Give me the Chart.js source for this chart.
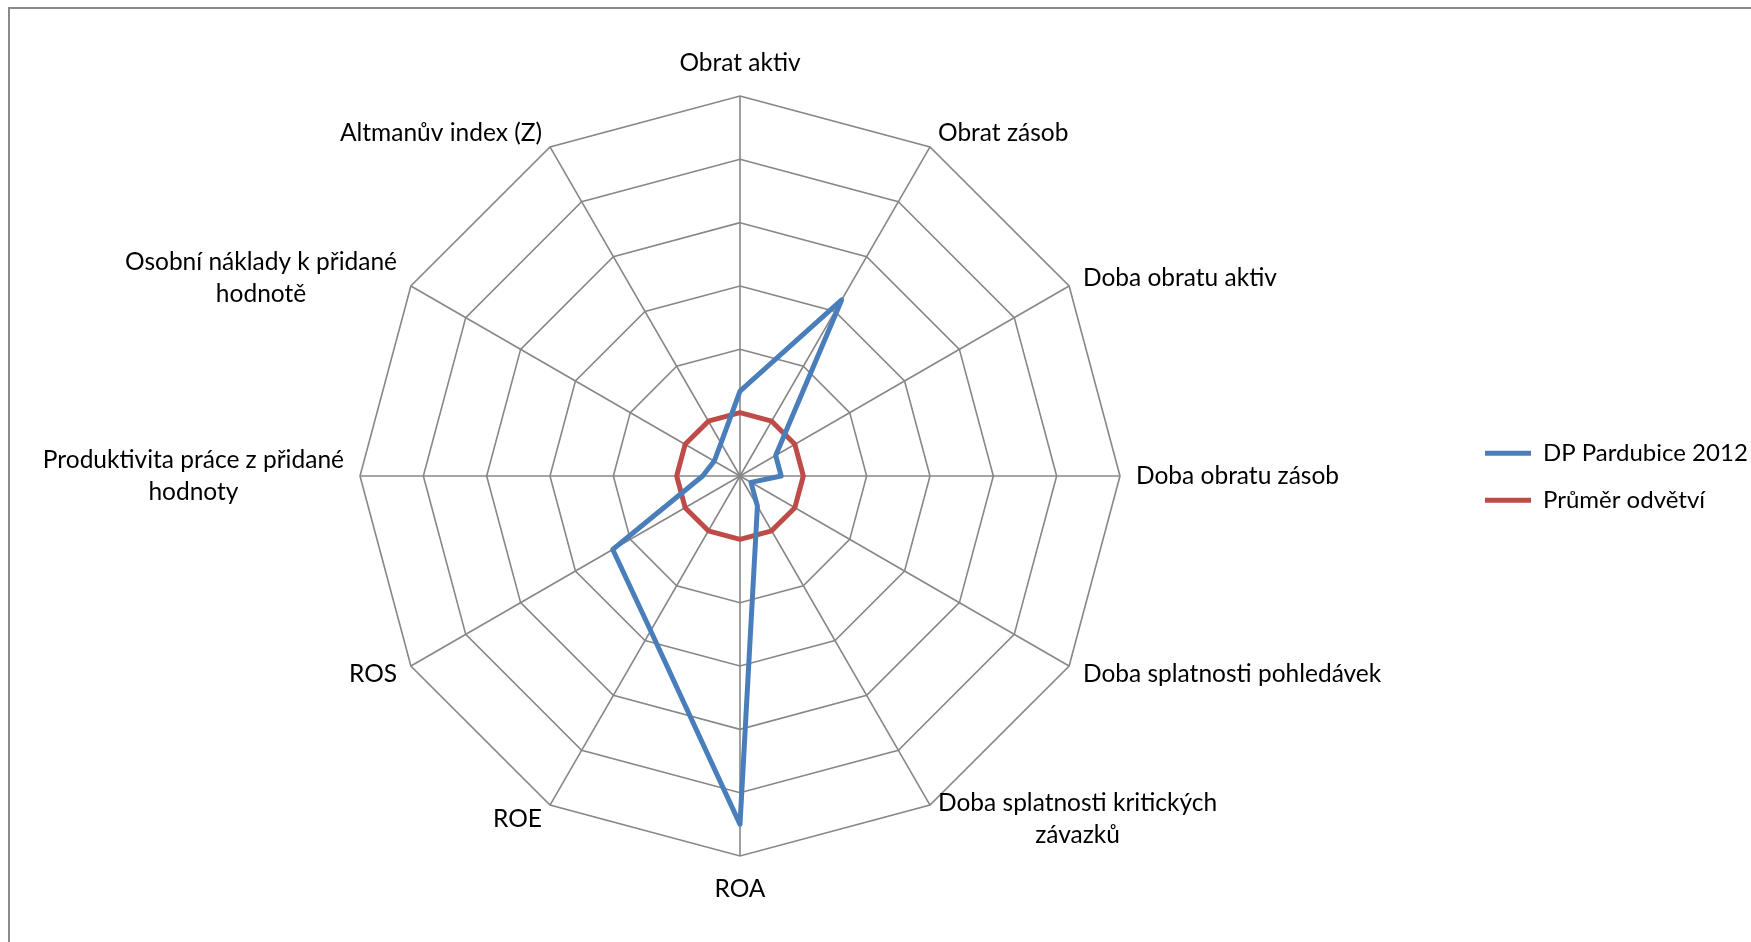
<!DOCTYPE html>
<html>
<head>
<meta charset="utf-8">
<script src="https://cdn.jsdelivr.net/npm/chart.js@4/dist/chart.umd.min.js"></script>
<style>
  html, body { margin: 0; padding: 0; background: #fff; overflow: hidden; }
  #frame { position: absolute; left: 8px; top: 7px; width: 1800px; height: 1000px; border: 2px solid #8a8a8a; }
  #wrap { position: absolute; left: 0; top: 0; width: 1800px; height: 942px; }
</style>
</head>
<body>
<div id="frame"></div>
<div id="wrap"><canvas id="c"></canvas></div>
<script>
// Indicators around the radar (multi-line ones as arrays)
const categories = [
  'Obrat aktiv',
  'Obrat zásob',
  'Doba obratu aktiv',
  'Doba obratu zásob',
  'Doba splatnosti pohledávek',
  ['Doba splatnosti kritických', 'závazků'],
  'ROA',
  'ROE',
  'ROS',
  ['Produktivita práce z přidané', 'hodnoty'],
  ['Osobní náklady k přidané', 'hodnotě'],
  'Altmanův index (Z)'
];
const seriesNames = ['DP Pardubice 2012', 'Průměr odvětví'];
const dpPardubice2012 = [1.34, 3.21, 0.65, 0.65, 0.2, 0.55, 5.5, 2.82, 2.32, 0.59, 0.47, 0.6];
const industryAverage = [1, 1, 1, 1, 1, 1, 1, 1, 1, 1, 1, 1];
const scaleMin = 0;
const scaleMax = 6;
const scaleStep = 1;

const FONT = 'Lato';
const LABEL_SIZE = 24.5;
const LABEL_LINE = 32;

// Category labels drawn outside the web, placed by each spoke's direction
const spokeLabels = {
  id: 'spokeLabels',
  afterDraw(chart) {
    const scale = chart.scales.r;
    const ctx = chart.ctx;
    ctx.save();
    ctx.font = LABEL_SIZE + 'px ' + FONT;
    ctx.fillStyle = '#000';
    ctx.textAlign = 'center';
    ctx.textBaseline = 'middle';
    chart.data.labels.forEach((label, i) => {
      const lines = Array.isArray(label) ? label : [label];
      const angle = scale.getIndexAngle(i);
      const ux = Math.sin(angle), uy = -Math.cos(angle);
      const vertical = Math.abs(ux) < 1e-6;
      const gap = vertical ? 17 : 16;
      const p = scale.getPointPosition(i, scale.drawingArea + gap);
      const blockW = Math.max(...lines.map(t => ctx.measureText(t).width));
      const blockH = lines.length * LABEL_LINE;
      let cx, top;
      if (vertical) {
        cx = p.x;
        top = uy < 0 ? p.y - blockH : p.y;
      } else {
        cx = ux > 0 ? p.x + blockW / 2 : p.x - blockW / 2;
        top = p.y - blockH / 2;
      }
      lines.forEach((t, k) => ctx.fillText(t, cx, top + LABEL_LINE * (k + 0.5)));
    });
    ctx.restore();
  }
};

new Chart(document.getElementById('c'), {
  type: 'radar',
  data: {
    labels: categories,
    datasets: [
      {
        label: seriesNames[0],
        data: dpPardubice2012,
        borderColor: '#4A7EBB',
        backgroundColor: '#4A7EBB',
        borderWidth: 5,
        borderCapStyle: 'round',
        borderJoinStyle: 'round',
        fill: false,
        pointRadius: 0,
        tension: 0
      },
      {
        label: seriesNames[1],
        data: industryAverage,
        borderColor: '#BE4B48',
        backgroundColor: '#BE4B48',
        borderWidth: 5,
        borderCapStyle: 'round',
        borderJoinStyle: 'round',
        fill: false,
        pointRadius: 0,
        tension: 0
      }
    ]
  },
  options: {
    responsive: true,
    maintainAspectRatio: false,
    animation: false,
    layout: { padding: { left: 19.4, right: 42.2, top: 96.7, bottom: 85.3 } },
    plugins: {
      tooltip: { enabled: false },
      legend: {
        position: 'right',
        align: 'center',
        labels: {
          usePointStyle: true,
          pointStyle: 'line',
          pointStyleWidth: 46,
          padding: 23,
          color: '#000',
          font: { family: FONT, size: 24 }
        }
      }
    },
    scales: {
      r: {
        min: scaleMin,
        max: scaleMax,
        ticks: { display: false, stepSize: scaleStep },
        pointLabels: { display: false },
        grid: { color: '#878787', lineWidth: 1.6, circular: false },
        angleLines: { color: '#878787', lineWidth: 1.6 }
      }
    }
  },
  plugins: [spokeLabels]
});
</script>
</body>
</html>
